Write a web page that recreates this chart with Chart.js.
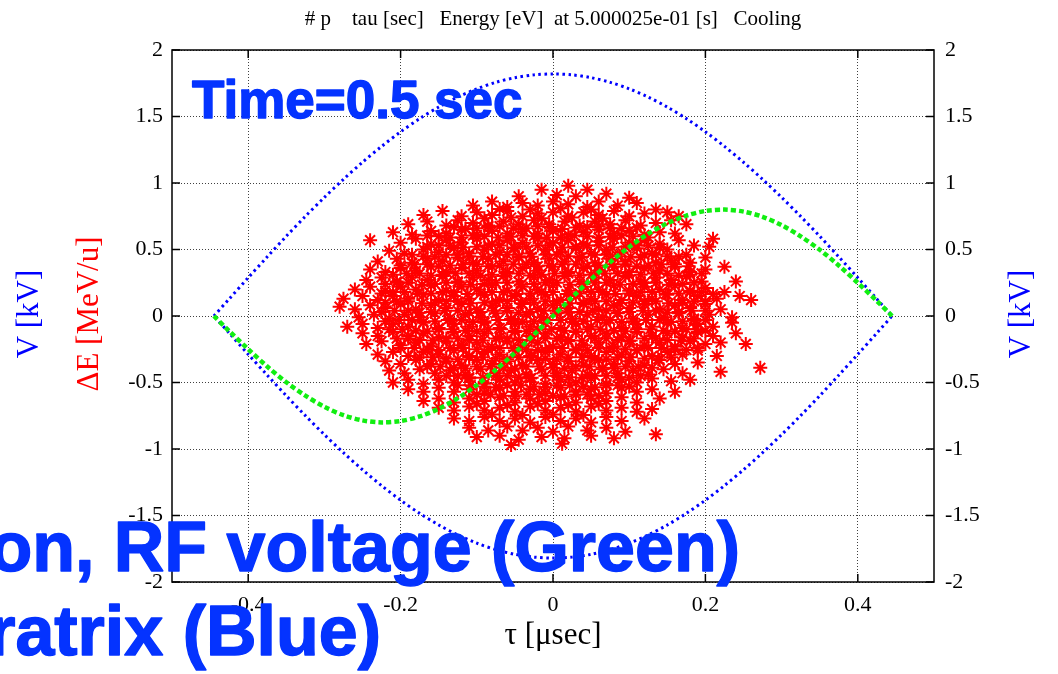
<!DOCTYPE html>
<html>
<head>
<meta charset="utf-8">
<script src="https://cdn.jsdelivr.net/npm/chart.js@4.4.1/dist/chart.umd.min.js"></script>
<style>
  body { margin: 0; background: #fff; }
  #wrap { width: 1058px; height: 674px; }
</style>
</head>
<body>
<div id="wrap"><canvas id="phase" width="1058" height="674"></canvas></div>
<script>
// tick labels
const xTicks = [-0.4, -0.2, 0, 0.2, 0.4];
const yTicks = [-2, -1.5, -1, -0.5, 0, 0.5, 1, 1.5, 2];

// separatrix (blue), tau in usec, V in kV
const sepTau = [-0.445, -0.425, -0.4, -0.375, -0.35, -0.325, -0.3, -0.275, -0.25, -0.225, -0.2, -0.175, -0.15, -0.125, -0.1, -0.075, -0.05, -0.025,
  0, 0.025, 0.05, 0.075, 0.1, 0.125, 0.15, 0.175, 0.2, 0.225, 0.25, 0.275, 0.3, 0.325, 0.35, 0.375, 0.4, 0.425, 0.445];
const sepUpper = [0, 0.128, 0.288, 0.445, 0.6, 0.749, 0.892, 1.028, 1.156, 1.275, 1.385, 1.484, 1.571, 1.646, 1.708, 1.757, 1.792, 1.813,
  1.82, 1.813, 1.792, 1.757, 1.708, 1.646, 1.571, 1.484, 1.385, 1.275, 1.156, 1.028, 0.892, 0.749, 0.6, 0.445, 0.288, 0.128, 0];
const sepLower = [0, -0.128, -0.288, -0.445, -0.6, -0.749, -0.892, -1.028, -1.156, -1.275, -1.385, -1.484, -1.571, -1.646, -1.708, -1.757, -1.792, -1.813,
  -1.82, -1.813, -1.792, -1.757, -1.708, -1.646, -1.571, -1.484, -1.385, -1.275, -1.156, -1.028, -0.892, -0.749, -0.6, -0.445, -0.288, -0.128, 0];

// RF voltage (green)
const rfV = [0, -0.113, -0.249, -0.38, -0.498, -0.599, -0.683, -0.746, -0.785, -0.8, -0.79, -0.755, -0.697, -0.618, -0.519, -0.404, -0.277, -0.14,
  0, 0.14, 0.277, 0.404, 0.519, 0.618, 0.697, 0.755, 0.79, 0.8, 0.785, 0.746, 0.683, 0.599, 0.498, 0.38, 0.249, 0.113, 0];

// particles: [tau usec, dE MeV/u]
const particles = [
  [0.02,0.98],[0.045,0.95],[-0.015,0.95],[0.07,0.92],[-0.045,0.9],[0.1,0.89],[0.005,0.91],[0.03,0.9],
  [-0.105,0.83],[-0.08,0.86],[-0.06,0.82],[-0.04,0.85],[-0.02,0.83],[0.0,0.86],[0.02,0.84],[0.045,0.82],[0.06,0.86],[0.085,0.83],[0.11,0.85],[0.135,0.8],
  [-0.17,0.76],[-0.145,0.79],[-0.12,0.75],[-0.1,0.78],[-0.08,0.76],[-0.06,0.79],[-0.04,0.75],[-0.02,0.77],[0.0,0.78],[0.02,0.75],[0.04,0.78],[0.06,0.76],[0.08,0.79],[0.1,0.75],[0.12,0.77],[0.15,0.78],[0.165,0.75],
  [-0.19,0.69],[-0.165,0.71],[-0.14,0.68],[-0.125,0.72],[-0.105,0.7],[-0.085,0.68],[-0.065,0.71],[-0.045,0.69],[-0.025,0.72],[-0.005,0.69],[0.015,0.71],[0.035,0.68],[0.055,0.71],[0.075,0.69],[0.095,0.72],[0.115,0.68],[0.135,0.7],[0.155,0.72],[0.175,0.69],
  [-0.21,0.63],[-0.185,0.61],[-0.16,0.64],[-0.14,0.62],[-0.12,0.65],[-0.1,0.61],[-0.08,0.64],[-0.06,0.62],[-0.04,0.65],[-0.02,0.62],[0.0,0.64],[0.02,0.61],[0.04,0.63],[0.06,0.65],[0.08,0.62],[0.1,0.64],[0.12,0.61],[0.14,0.63],[0.16,0.62],[0.21,0.58],[0.205,0.52],
  [-0.24,0.57],[-0.2,0.55],[-0.18,0.58],[-0.16,0.54],[-0.14,0.57],[-0.12,0.55],[-0.1,0.58],[-0.08,0.54],[-0.06,0.57],[-0.04,0.55],[-0.02,0.58],[0.0,0.55],[0.02,0.57],[0.04,0.54],[0.06,0.56],[0.08,0.58],[0.1,0.55],[0.12,0.57],[0.14,0.54],[0.165,0.57],[0.185,0.53],
  [-0.215,0.49],[-0.195,0.47],[-0.17,0.5],[-0.15,0.48],[-0.13,0.51],[-0.11,0.47],[-0.09,0.5],[-0.07,0.48],[-0.05,0.51],[-0.03,0.47],[-0.01,0.5],[0.01,0.48],[0.03,0.51],[0.05,0.47],[0.07,0.5],[0.09,0.48],[0.11,0.51],[0.13,0.47],[0.15,0.5],[0.175,0.46],[0.2,0.44],
  [-0.23,0.41],[-0.205,0.43],[-0.185,0.4],[-0.165,0.43],[-0.145,0.41],[-0.125,0.44],[-0.105,0.4],[-0.085,0.43],[-0.065,0.41],[-0.045,0.44],[-0.025,0.4],[-0.005,0.43],[0.015,0.41],[0.035,0.44],[0.055,0.4],[0.075,0.43],[0.095,0.41],[0.115,0.44],[0.135,0.4],[0.155,0.42],[0.18,0.4],[0.225,0.37],
  [-0.24,0.35],[-0.22,0.33],[-0.2,0.36],[-0.18,0.34],[-0.16,0.37],[-0.14,0.33],[-0.12,0.36],[-0.1,0.34],[-0.08,0.37],[-0.06,0.33],[-0.04,0.36],[-0.02,0.34],[0.0,0.37],[0.02,0.33],[0.04,0.36],[0.06,0.34],[0.08,0.37],[0.1,0.33],[0.12,0.36],[0.14,0.34],[0.16,0.37],[0.18,0.33],[0.2,0.35],
  [-0.245,0.27],[-0.225,0.29],[-0.205,0.26],[-0.185,0.29],[-0.165,0.27],[-0.145,0.3],[-0.125,0.26],[-0.105,0.29],[-0.085,0.27],[-0.065,0.3],[-0.045,0.26],[-0.025,0.29],[-0.005,0.27],[0.015,0.3],[0.035,0.26],[0.055,0.29],[0.075,0.27],[0.095,0.3],[0.115,0.26],[0.135,0.29],[0.155,0.27],[0.175,0.3],[0.195,0.26],[0.24,0.26],
  [-0.26,0.2],[-0.24,0.22],[-0.22,0.19],[-0.2,0.22],[-0.18,0.2],[-0.16,0.23],[-0.14,0.19],[-0.12,0.22],[-0.1,0.2],[-0.08,0.23],[-0.06,0.19],[-0.04,0.22],[-0.02,0.2],[0.0,0.23],[0.02,0.19],[0.04,0.22],[0.06,0.2],[0.08,0.23],[0.1,0.19],[0.12,0.22],[0.14,0.2],[0.16,0.23],[0.18,0.19],[0.2,0.21],[0.225,0.18],
  [-0.275,0.13],[-0.25,0.15],[-0.23,0.12],[-0.21,0.15],[-0.19,0.13],[-0.17,0.16],[-0.15,0.12],[-0.13,0.15],[-0.11,0.13],[-0.09,0.16],[-0.07,0.12],[-0.05,0.15],[-0.03,0.13],[-0.01,0.16],[0.01,0.12],[0.03,0.15],[0.05,0.13],[0.07,0.16],[0.09,0.12],[0.11,0.15],[0.13,0.13],[0.15,0.16],[0.17,0.12],[0.19,0.15],[0.215,0.13],[0.245,0.15],[0.26,0.12],
  [-0.28,0.07],[-0.26,0.05],[-0.24,0.08],[-0.22,0.06],[-0.2,0.09],[-0.18,0.05],[-0.16,0.08],[-0.14,0.06],[-0.12,0.09],[-0.1,0.05],[-0.08,0.08],[-0.06,0.06],[-0.04,0.09],[-0.02,0.05],[0.0,0.08],[0.02,0.06],[0.04,0.09],[0.06,0.05],[0.08,0.08],[0.1,0.06],[0.12,0.09],[0.14,0.05],[0.16,0.08],[0.18,0.06],[0.2,0.09],[0.22,0.05],
  [-0.255,-0.01],[-0.235,0.01],[-0.215,-0.02],[-0.195,0.01],[-0.175,-0.01],[-0.155,0.02],[-0.135,-0.02],[-0.115,0.01],[-0.095,-0.01],[-0.075,0.02],[-0.055,-0.02],[-0.035,0.01],[-0.015,-0.01],[0.005,0.02],[0.025,-0.02],[0.045,0.01],[0.065,-0.01],[0.085,0.02],[0.105,-0.02],[0.125,0.01],[0.145,-0.01],[0.165,0.02],[0.185,-0.02],[0.205,0.01],[0.235,-0.01],
  [-0.27,-0.08],[-0.25,-0.06],[-0.23,-0.09],[-0.21,-0.06],[-0.19,-0.08],[-0.17,-0.05],[-0.15,-0.09],[-0.13,-0.06],[-0.11,-0.08],[-0.09,-0.05],[-0.07,-0.09],[-0.05,-0.06],[-0.03,-0.08],[-0.01,-0.05],[0.01,-0.09],[0.03,-0.06],[0.05,-0.08],[0.07,-0.05],[0.09,-0.09],[0.11,-0.06],[0.13,-0.08],[0.15,-0.05],[0.17,-0.09],[0.19,-0.06],[0.21,-0.08],[0.235,-0.05],
  [-0.25,-0.13],[-0.23,-0.15],[-0.21,-0.12],[-0.19,-0.15],[-0.17,-0.13],[-0.15,-0.16],[-0.13,-0.12],[-0.11,-0.15],[-0.09,-0.13],[-0.07,-0.16],[-0.05,-0.12],[-0.03,-0.15],[-0.01,-0.13],[0.01,-0.16],[0.03,-0.12],[0.05,-0.15],[0.07,-0.13],[0.09,-0.16],[0.11,-0.12],[0.13,-0.15],[0.15,-0.13],[0.17,-0.16],[0.19,-0.12],[0.21,-0.15],[0.24,-0.13],
  [-0.245,-0.21],[-0.225,-0.19],[-0.2,-0.22],[-0.18,-0.2],[-0.16,-0.23],[-0.14,-0.19],[-0.12,-0.22],[-0.1,-0.2],[-0.08,-0.23],[-0.06,-0.19],[-0.04,-0.22],[-0.02,-0.2],[0.0,-0.23],[0.02,-0.19],[0.04,-0.22],[0.06,-0.2],[0.08,-0.23],[0.1,-0.19],[0.12,-0.22],[0.14,-0.2],[0.16,-0.23],[0.18,-0.19],[0.2,-0.21],[0.22,-0.2],[0.253,-0.21],
  [-0.23,-0.29],[-0.21,-0.27],[-0.19,-0.3],[-0.17,-0.27],[-0.15,-0.29],[-0.13,-0.26],[-0.11,-0.3],[-0.09,-0.27],[-0.07,-0.29],[-0.05,-0.26],[-0.03,-0.3],[-0.01,-0.27],[0.01,-0.29],[0.03,-0.26],[0.05,-0.3],[0.07,-0.27],[0.09,-0.29],[0.11,-0.26],[0.13,-0.3],[0.15,-0.27],[0.17,-0.29],[0.19,-0.26],[0.215,-0.3],
  [-0.22,-0.34],[-0.2,-0.36],[-0.18,-0.33],[-0.16,-0.36],[-0.14,-0.34],[-0.12,-0.37],[-0.1,-0.33],[-0.08,-0.36],[-0.06,-0.34],[-0.04,-0.37],[-0.02,-0.33],[0.0,-0.36],[0.02,-0.34],[0.04,-0.37],[0.06,-0.33],[0.08,-0.36],[0.1,-0.34],[0.12,-0.37],[0.14,-0.33],[0.16,-0.36],[0.19,-0.35],
  [-0.215,-0.41],[-0.195,-0.43],[-0.175,-0.4],[-0.155,-0.43],[-0.135,-0.41],[-0.115,-0.44],[-0.095,-0.4],[-0.075,-0.43],[-0.055,-0.41],[-0.035,-0.44],[-0.015,-0.4],[0.005,-0.43],[0.025,-0.41],[0.045,-0.44],[0.065,-0.4],[0.085,-0.43],[0.105,-0.41],[0.125,-0.44],[0.145,-0.4],[0.17,-0.43],[0.22,-0.42],[0.272,-0.39],
  [-0.21,-0.5],[-0.19,-0.48],[-0.17,-0.51],[-0.15,-0.48],[-0.13,-0.5],[-0.11,-0.47],[-0.09,-0.51],[-0.07,-0.48],[-0.05,-0.5],[-0.03,-0.47],[-0.01,-0.51],[0.01,-0.48],[0.03,-0.5],[0.05,-0.47],[0.07,-0.51],[0.09,-0.48],[0.11,-0.5],[0.13,-0.47],[0.155,-0.49],[0.18,-0.48],
  [-0.19,-0.55],[-0.17,-0.57],[-0.15,-0.54],[-0.13,-0.57],[-0.11,-0.55],[-0.09,-0.58],[-0.07,-0.54],[-0.05,-0.57],[-0.03,-0.55],[-0.01,-0.58],[0.01,-0.54],[0.03,-0.57],[0.05,-0.55],[0.07,-0.58],[0.09,-0.54],[0.11,-0.57],[0.13,-0.55],[0.16,-0.57],
  [-0.17,-0.64],[-0.15,-0.62],[-0.13,-0.65],[-0.11,-0.62],[-0.09,-0.64],[-0.07,-0.61],[-0.05,-0.65],[-0.03,-0.62],[-0.01,-0.64],[0.01,-0.61],[0.03,-0.65],[0.05,-0.62],[0.07,-0.64],[0.09,-0.61],[0.11,-0.65],[0.14,-0.62],
  [-0.15,-0.69],[-0.13,-0.71],[-0.11,-0.68],[-0.09,-0.71],[-0.07,-0.69],[-0.05,-0.72],[-0.03,-0.68],[-0.01,-0.71],[0.01,-0.69],[0.03,-0.72],[0.05,-0.68],[0.07,-0.71],[0.09,-0.69],[0.11,-0.72],[0.13,-0.7],
  [-0.13,-0.77],[-0.11,-0.79],[-0.09,-0.76],[-0.07,-0.79],[-0.05,-0.77],[-0.03,-0.8],[-0.01,-0.76],[0.01,-0.79],[0.03,-0.77],[0.05,-0.8],[0.07,-0.76],[0.09,-0.79],[0.12,-0.77],
  [-0.11,-0.84],[-0.085,-0.86],[-0.06,-0.83],[-0.04,-0.86],[-0.02,-0.84],[0.0,-0.87],[0.02,-0.83],[0.045,-0.86],[0.07,-0.84],[0.095,-0.87],[0.135,-0.89],
  [-0.1,-0.91],[-0.07,-0.9],[-0.045,-0.93],[-0.015,-0.91],[0.015,-0.92],[0.05,-0.9],[0.08,-0.92],
  [-0.055,-0.97],[0.012,-0.96],
  // denser core
  [-0.13,0.67],[-0.1,0.66],[-0.07,0.675],[-0.035,0.66],[-0.005,0.67],[0.03,0.665],[0.06,0.675],[0.09,0.66],
  [-0.15,0.6],[-0.12,0.59],[-0.09,0.6],[-0.055,0.595],[-0.025,0.6],[0.01,0.59],[0.045,0.6],[0.075,0.595],[0.105,0.6],
  [-0.165,0.52],[-0.135,0.53],[-0.1,0.52],[-0.07,0.53],[-0.035,0.52],[-0.005,0.53],[0.03,0.52],[0.06,0.53],[0.095,0.52],[0.125,0.53],
  [-0.17,0.45],[-0.14,0.46],[-0.11,0.45],[-0.075,0.46],[-0.045,0.45],[-0.01,0.46],[0.02,0.45],[0.055,0.46],[0.085,0.45],[0.12,0.46],[0.15,0.45],
  [-0.2,0.38],[-0.165,0.39],[-0.135,0.38],[-0.1,0.39],[-0.07,0.38],[-0.035,0.39],[-0.005,0.38],[0.03,0.39],[0.06,0.38],[0.095,0.39],[0.125,0.38],[0.16,0.39],
  [-0.21,0.31],[-0.175,0.32],[-0.145,0.31],[-0.11,0.32],[-0.08,0.31],[-0.045,0.32],[-0.015,0.31],[0.02,0.32],[0.05,0.31],[0.085,0.32],[0.115,0.31],[0.15,0.32],[0.18,0.31],
  [-0.22,0.24],[-0.19,0.25],[-0.155,0.24],[-0.125,0.25],[-0.09,0.24],[-0.06,0.25],[-0.025,0.24],[0.005,0.25],[0.04,0.24],[0.07,0.25],[0.105,0.24],[0.135,0.25],[0.17,0.24],
  [-0.225,0.17],[-0.195,0.18],[-0.16,0.17],[-0.13,0.18],[-0.095,0.17],[-0.065,0.18],[-0.03,0.17],[0.0,0.18],[0.035,0.17],[0.065,0.18],[0.1,0.17],[0.13,0.18],[0.165,0.17],[0.195,0.18],
  [-0.22,0.1],[-0.19,0.11],[-0.155,0.1],[-0.125,0.11],[-0.09,0.1],[-0.06,0.11],[-0.025,0.1],[0.005,0.11],[0.04,0.1],[0.07,0.11],[0.105,0.1],[0.135,0.11],[0.17,0.1],[0.2,0.11],
  [-0.225,0.03],[-0.19,0.04],[-0.16,0.03],[-0.125,0.04],[-0.095,0.03],[-0.06,0.04],[-0.03,0.03],[0.005,0.04],[0.035,0.03],[0.07,0.04],[0.1,0.03],[0.135,0.04],[0.165,0.03],[0.2,0.04],
  [-0.22,-0.04],[-0.185,-0.03],[-0.155,-0.04],[-0.12,-0.03],[-0.09,-0.04],[-0.055,-0.03],[-0.025,-0.04],[0.01,-0.03],[0.04,-0.04],[0.075,-0.03],[0.105,-0.04],[0.14,-0.03],[0.17,-0.04],[0.2,-0.03],
  [-0.215,-0.1],[-0.18,-0.11],[-0.15,-0.1],[-0.115,-0.11],[-0.085,-0.1],[-0.05,-0.11],[-0.02,-0.1],[0.015,-0.11],[0.045,-0.1],[0.08,-0.11],[0.11,-0.1],[0.145,-0.11],[0.175,-0.1],[0.2,-0.11],
  [-0.205,-0.17],[-0.175,-0.18],[-0.14,-0.17],[-0.11,-0.18],[-0.075,-0.17],[-0.045,-0.18],[-0.01,-0.17],[0.02,-0.18],[0.055,-0.17],[0.085,-0.18],[0.12,-0.17],[0.15,-0.18],[0.185,-0.17],
  [-0.2,-0.24],[-0.165,-0.25],[-0.135,-0.24],[-0.1,-0.25],[-0.07,-0.24],[-0.035,-0.25],[-0.005,-0.24],[0.03,-0.25],[0.06,-0.24],[0.095,-0.25],[0.125,-0.24],[0.16,-0.25],[0.19,-0.24],
  [-0.175,-0.31],[-0.14,-0.32],[-0.11,-0.31],[-0.075,-0.32],[-0.045,-0.31],[-0.01,-0.32],[0.02,-0.31],[0.055,-0.32],[0.085,-0.31],[0.12,-0.32],[0.155,-0.31],
  [-0.165,-0.38],[-0.13,-0.39],[-0.1,-0.38],[-0.065,-0.39],[-0.035,-0.38],[0.0,-0.39],[0.03,-0.38],[0.065,-0.39],[0.095,-0.38],[0.13,-0.39],
  [-0.14,-0.45],[-0.11,-0.46],[-0.075,-0.45],[-0.045,-0.46],[-0.01,-0.45],[0.02,-0.46],[0.055,-0.45],[0.085,-0.46],[0.115,-0.45],
  [-0.125,-0.52],[-0.09,-0.53],[-0.06,-0.52],[-0.025,-0.53],[0.005,-0.52],[0.04,-0.53],[0.07,-0.52],[0.1,-0.53],
  [-0.1,-0.59],[-0.065,-0.6],[-0.035,-0.59],[0.0,-0.6],[0.03,-0.59],[0.06,-0.6],
  // densest part
  [-0.09,0.735],[-0.055,0.74],[-0.015,0.735],[0.025,0.74],[0.065,0.735],[-0.07,0.805],[-0.03,0.8],[0.01,0.81],[0.05,0.8],
  [-0.115,0.655],[-0.085,0.67],[-0.052,0.66],[-0.02,0.675],[0.012,0.655],[0.045,0.67],[0.075,0.66],[0.11,0.665],
  [-0.165,0.605],[-0.135,0.59],[-0.105,0.605],[-0.072,0.59],[-0.04,0.605],[-0.008,0.59],[0.028,0.605],[0.06,0.59],[0.09,0.605],[0.125,0.59],
  [-0.15,0.53],[-0.118,0.515],[-0.085,0.53],[-0.052,0.515],[-0.02,0.53],[0.012,0.515],[0.045,0.53],[0.078,0.515],[0.11,0.53],[0.14,0.515],
  [-0.185,0.46],[-0.155,0.445],[-0.125,0.46],[-0.092,0.445],[-0.06,0.46],[-0.028,0.445],[0.005,0.46],[0.038,0.445],[0.07,0.46],[0.102,0.445],[0.135,0.46],[0.165,0.445],
  [-0.182,0.39],[-0.15,0.375],[-0.118,0.39],[-0.085,0.375],[-0.052,0.39],[-0.02,0.375],[0.012,0.39],[0.045,0.375],[0.078,0.39],[0.11,0.375],[0.142,0.39],[0.178,0.375],
  [-0.192,0.32],[-0.16,0.305],[-0.128,0.32],[-0.095,0.305],[-0.062,0.32],[-0.03,0.305],[0.002,0.32],[0.035,0.305],[0.068,0.32],[0.1,0.305],[0.132,0.32],[0.165,0.305],[0.195,0.32],
  [-0.205,0.25],[-0.172,0.235],[-0.14,0.25],[-0.108,0.235],[-0.075,0.25],[-0.042,0.235],[-0.01,0.25],[0.022,0.235],[0.055,0.25],[0.088,0.235],[0.12,0.25],[0.152,0.235],[0.185,0.25],
  [-0.21,0.18],[-0.178,0.165],[-0.145,0.18],[-0.112,0.165],[-0.08,0.18],[-0.048,0.165],[-0.015,0.18],[0.018,0.165],[0.05,0.18],[0.082,0.165],[0.115,0.18],[0.148,0.165],[0.18,0.18],[0.21,0.165],
  [-0.205,0.11],[-0.172,0.095],[-0.14,0.11],[-0.108,0.095],[-0.075,0.11],[-0.042,0.095],[-0.01,0.11],[0.022,0.095],[0.055,0.11],[0.088,0.095],[0.12,0.11],[0.152,0.095],[0.185,0.11],
  [-0.208,0.04],[-0.175,0.025],[-0.142,0.04],[-0.11,0.025],[-0.078,0.04],[-0.045,0.025],[-0.012,0.04],[0.02,0.025],[0.052,0.04],[0.085,0.025],[0.118,0.04],[0.15,0.025],[0.182,0.04],
  [-0.202,-0.03],[-0.17,-0.045],[-0.138,-0.03],[-0.105,-0.045],[-0.072,-0.03],[-0.04,-0.045],[-0.008,-0.03],[0.025,-0.045],[0.058,-0.03],[0.09,-0.045],[0.122,-0.03],[0.155,-0.045],[0.185,-0.03],
  [-0.198,-0.1],[-0.165,-0.115],[-0.132,-0.1],[-0.1,-0.115],[-0.068,-0.1],[-0.035,-0.115],[-0.002,-0.1],[0.03,-0.115],[0.062,-0.1],[0.095,-0.115],[0.128,-0.1],[0.16,-0.115],[0.188,-0.1],
  [-0.19,-0.17],[-0.158,-0.185],[-0.125,-0.17],[-0.092,-0.185],[-0.06,-0.17],[-0.028,-0.185],[0.005,-0.17],[0.038,-0.185],[0.07,-0.17],[0.102,-0.185],[0.135,-0.17],[0.168,-0.185],
  [-0.182,-0.24],[-0.15,-0.255],[-0.118,-0.24],[-0.085,-0.255],[-0.052,-0.24],[-0.02,-0.255],[0.012,-0.24],[0.045,-0.255],[0.078,-0.24],[0.11,-0.255],[0.142,-0.24],[0.175,-0.255],
  [-0.158,-0.31],[-0.125,-0.325],[-0.092,-0.31],[-0.06,-0.325],[-0.028,-0.31],[0.005,-0.325],[0.038,-0.31],[0.07,-0.325],[0.102,-0.31],[0.138,-0.325],
  [-0.148,-0.38],[-0.115,-0.395],[-0.082,-0.38],[-0.05,-0.395],[-0.018,-0.38],[0.015,-0.395],[0.048,-0.38],[0.08,-0.395],[0.112,-0.38],
  [-0.125,-0.45],[-0.092,-0.465],[-0.06,-0.45],[-0.028,-0.465],[0.005,-0.45],[0.038,-0.465],[0.07,-0.45],[0.1,-0.465],
  [-0.108,-0.52],[-0.075,-0.535],[-0.042,-0.52],[-0.01,-0.535],[0.022,-0.52],[0.055,-0.535],[0.085,-0.52],
  [-0.082,-0.59],[-0.05,-0.605],[-0.018,-0.59],[0.015,-0.605],[0.045,-0.59],
  [-0.1,-0.66],[-0.06,-0.67],[-0.02,-0.66],[0.02,-0.67],[0.06,-0.66],[-0.08,-0.74],[-0.04,-0.745],[0.0,-0.74],[0.04,-0.745]
];

const serif = '"Liberation Serif", "DejaVu Serif", serif';
const sans = '"Liberation Sans", Arial, sans-serif';
const slideBlue = '#0433ff';

const sepData = sepTau.map((t, i) => ({x: t, y: sepUpper[i]}))
  .concat(sepTau.slice().reverse().map((t, i) => ({x: t, y: sepLower[sepLower.length - 1 - i]})));
const rfData = sepTau.map((t, i) => ({x: t, y: rfV[i]}));
const beamData = particles.map(p => ({x: p[0], y: p[1]}));

// frame, inward ticks and all the texts
const decorations = {
  id: 'decorations',
  afterDraw(chart) {
    const ctx = chart.ctx;
    const a = chart.chartArea;
    const xs = chart.scales.x, ys = chart.scales.y;
    ctx.save();
    ctx.strokeStyle = '#000';
    ctx.lineWidth = 1.5;
    ctx.strokeRect(a.left, a.top, a.right - a.left, a.bottom - a.top);
    ctx.beginPath();
    xTicks.forEach(v => {
      const px = xs.getPixelForValue(v);
      ctx.moveTo(px, a.bottom); ctx.lineTo(px, a.bottom - 8);
      ctx.moveTo(px, a.top); ctx.lineTo(px, a.top + 8);
    });
    yTicks.forEach(v => {
      const py = ys.getPixelForValue(v);
      ctx.moveTo(a.left, py); ctx.lineTo(a.left + 8, py);
      ctx.moveTo(a.right, py); ctx.lineTo(a.right - 8, py);
    });
    ctx.stroke();

    ctx.textAlign = 'center';
    ctx.textBaseline = 'middle';
    ctx.fillStyle = '#000';
    ctx.font = '21px ' + serif;
    ctx.fillText('# p    tau [sec]   Energy [eV]  at 5.000025e-01 [s]   Cooling', 553, 19);
    ctx.font = '31px ' + serif;
    ctx.fillText('\u03c4 [\u03bcsec]', 553, 636);

    const vertical = (text, x, y, color) => {
      ctx.save();
      ctx.translate(x, y);
      ctx.rotate(-Math.PI / 2);
      ctx.fillStyle = color;
      ctx.fillText(text, 0, 0);
      ctx.restore();
    };
    vertical('\u0394E [MeV/u]', 90, 314, '#ff0000');
    vertical('V [kV]', 30, 314, '#0000ff');
    vertical('V [kV]', 1022, 314, '#0000ff');

    // slide annotations
    ctx.fillStyle = slideBlue;
    ctx.strokeStyle = slideBlue;
    ctx.lineWidth = 1.4;
    ctx.lineJoin = 'round';
    ctx.textBaseline = 'alphabetic';
    ctx.textAlign = 'left';
    ctx.font = 'bold 53px ' + sans;
    ctx.fillText('Time=0.5 sec', 192, 118);
    ctx.strokeText('Time=0.5 sec', 192, 118);
    ctx.textAlign = 'right';
    ctx.font = 'bold 70px ' + sans;
    ctx.fillText('on, RF voltage (Green)', 740, 571);
    ctx.strokeText('on, RF voltage (Green)', 740, 571);
    ctx.fillText('ratrix (Blue)', 381, 655);
    ctx.strokeText('ratrix (Blue)', 381, 655);
    ctx.restore();
  }
};

new Chart(document.getElementById('phase'), {
  type: 'scatter',
  data: {
    datasets: [
      {
        label: 'RF voltage',
        data: rfData,
        showLine: true,
        borderColor: '#11ee11',
        borderWidth: 4.5,
        borderDash: [5, 3],
        pointRadius: 0,
        tension: 0.3,
        order: 1
      },
      {
        label: 'Separatrix',
        data: sepData,
        showLine: true,
        borderColor: '#0000ff',
        borderWidth: 3,
        borderDash: [2.5, 3.5],
        pointRadius: 0,
        tension: 0.3,
        order: 2
      },
      {
        label: 'Particles',
        data: beamData,
        pointStyle: 'star',
        pointRadius: 7,
        borderColor: '#ff0000',
        backgroundColor: '#ff0000',
        borderWidth: 2,
        order: 3
      }
    ]
  },
  options: {
    responsive: false,
    animation: false,
    devicePixelRatio: 1,
    layout: { padding: { top: 50, right: 0, left: 0, bottom: 0 } },
    plugins: {
      legend: { display: false },
      tooltip: { enabled: false }
    },
    scales: {
      x: {
        type: 'linear',
        min: -0.5,
        max: 0.5,
        afterBuildTicks: s => { s.ticks = xTicks.map(v => ({value: v})); },
        afterFit: s => { s.height = 92; },
        ticks: {
          color: '#000',
          font: { family: serif, size: 22 },
          padding: 10,
          callback: v => String(v)
        },
        grid: { color: 'rgba(0,0,0,0.75)', lineWidth: 1, drawTicks: false },
        border: { display: false, dash: [1, 2] }
      },
      y: {
        type: 'linear',
        position: 'left',
        min: -2,
        max: 2,
        afterBuildTicks: s => { s.ticks = yTicks.map(v => ({value: v})); },
        afterFit: s => { s.width = 172; },
        ticks: {
          color: '#000',
          font: { family: serif, size: 22 },
          padding: 9,
          callback: v => String(v)
        },
        grid: { color: 'rgba(0,0,0,0.75)', lineWidth: 1, drawTicks: false },
        border: { display: false, dash: [1, 2] }
      },
      y2: {
        type: 'linear',
        position: 'right',
        min: -2,
        max: 2,
        afterBuildTicks: s => { s.ticks = yTicks.map(v => ({value: v})); },
        afterFit: s => { s.width = 124; },
        ticks: {
          color: '#000',
          font: { family: serif, size: 22 },
          padding: 11,
          callback: v => String(v)
        },
        grid: { display: false, drawTicks: false },
        border: { display: false }
      }
    }
  },
  plugins: [decorations]
});
</script>
</body>
</html>
